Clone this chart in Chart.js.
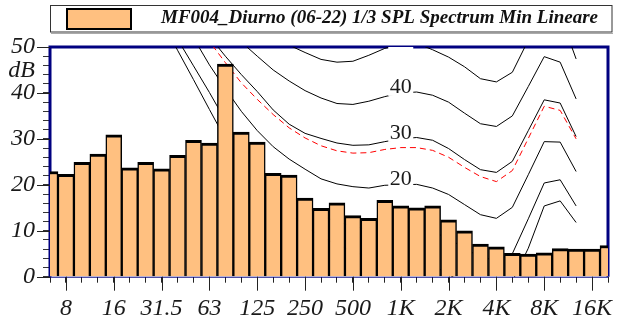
<!DOCTYPE html>
<html>
<head>
<meta charset="utf-8">
<script src="https://cdn.jsdelivr.net/npm/chart.js@4.4.1/dist/chart.umd.min.js"></script>
<style>
  html, body { margin: 0; padding: 0; background: #fff; }
  canvas { display: block; }
</style>
</head>
<body>
<canvas id="spectrum" width="620" height="324"></canvas>
<script>
// 1/3 octave bands, 6.3 Hz .. 20 kHz
const bands = ['6.3', '8', '10', '12.5', '16', '20', '25', '31.5', '40', '50', '63', '80', '100', '125',
  '160', '200', '250', '315', '400', '500', '630', '800', '1K', '1.25K', '1.6K', '2K', '2.5K', '3.15K',
  '4K', '5K', '6.3K', '8K', '10K', '12.5K', '16K', '20K'];

// minimum SPL per band, dB
const levels = [22.9, 22.3, 24.9, 26.7, 30.9, 23.7, 24.9, 23.5, 26.4, 29.7, 29.1, 46.3, 31.5, 29.3,
  22.5, 22.1, 17.1, 14.9, 16.1, 13.3, 12.7, 16.6, 15.4, 15.0, 15.4, 12.4, 10.0, 7.1,
  6.5, 5.1, 4.9, 5.2, 6.1, 6.0, 6.0, 6.8];

const axisLabels = ['8', '16', '31.5', '63', '125', '250', '500', '1K', '2K', '4K', '8K', '16K'];

// equal loudness curves, 20 Hz .. 12.5 kHz
const contourFrom = '20';
const phon0 = [70, 62.5, 55.7, 49.3, 42.9, 36.4, 30.0, 25.5, 21.0, 17.0, 13.8, 11.0, 8.8, 7.0, 5.5,
  4.3, 3.5, 3.0, 3.2, 2.5, 0.5, -1.5, -3.5, -4.0, -1.0, 6.2, 15.4, 16.5, 11.8];
const phon10 = [72, 65, 58, 51.7, 45.9, 40.1, 34.0, 28.5, 24.5, 20.5, 17.8, 15.3, 13.3, 12.0, 11.0,
  10.3, 10.0, 10.0, 10.3, 9.8, 8.3, 6.2, 4.2, 3.6, 5.0, 12.6, 20.4, 21.1, 15.4];
const phon20 = [78, 71, 64, 58, 52, 46.1, 40.9, 36.0, 31.8, 28.3, 25.6, 23.4, 21.3, 20.2, 19.6,
  19.3, 19.9, 20.0, 20.1, 19.3, 17.9, 15.7, 13.5, 12.7, 15.1, 22.2, 29.4, 29.3, 22.9];
const limitCurve = [80, 73, 66, 60, 55.5, 51.2, 46.6, 42.2, 38.6, 35.3, 32.4, 30.2, 28.5, 27.4, 26.9,
  27.0, 27.7, 28.1, 28.1, 27.5, 26.0, 23.8, 21.8, 20.7, 23.1, 30.1, 37.1, 36.2, 30.0];
const phon30 = [85, 79, 72, 65, 58, 52.3, 48.0, 44.0, 40.3, 36.3, 33.2, 31.2, 30.1, 29.1, 28.6,
  28.7, 29.4, 30.0, 30.3, 29.7, 27.9, 25.5, 23.3, 22.7, 25.1, 31.8, 38.5, 37.8, 30.5];
const phon40 = [95, 89, 83, 77, 70, 63, 56.5, 51.1, 48.0, 45.0, 42.6, 40.5, 38.9, 37.7, 37.5,
  38.2, 39.2, 40.0, 40.2, 39.5, 38.0, 35.6, 33.3, 32.7, 35.0, 41.4, 47.9, 46.7, 38.7];
const phon50 = [105, 99, 93, 87, 81, 75, 69, 63, 57.5, 53.2, 50.4, 48.8, 47.3, 46.7, 46.9,
  48.2, 49.7, 50.6, 50.8, 49.4, 47.8, 45.7, 43.1, 42.4, 44.5, 51.5, 58, 57, 47.4];

const curveLabels = [20, 30, 40, 50];
const legendText = 'MF004_Diurno (06-22) 1/3 SPL Spectrum Min Lineare';

const SERIF = "'Liberation Serif', 'Times New Roman', serif";
const NAVY = '#000080';
const BAR_FILL = '#FFC080';

const toPoints = (values, start) => values.map((v, i) => ({ x: start + i, y: v }));
const first = bands.indexOf(contourFrom);

function curve(values, color, dash) {
  return {
    type: 'line',
    data: toPoints(values, first),
    borderColor: color,
    borderWidth: 1,
    borderDash: dash || [],
    pointRadius: 0,
    tension: 0,
    order: 1,
  };
}

// plot frame: heavy navy on three sides, thin base line
const frame = {
  id: 'frame',
  beforeDatasetsDraw(chart) {
    const { ctx, chartArea: a } = chart;
    ctx.save();
    ctx.strokeStyle = NAVY;
    ctx.lineWidth = 3;
    ctx.beginPath();
    ctx.moveTo(a.left, a.bottom);
    ctx.lineTo(a.left, a.top);
    ctx.lineTo(a.right, a.top);
    ctx.lineTo(a.right, a.bottom);
    ctx.stroke();
    ctx.lineWidth = 1;
    ctx.beginPath();
    ctx.moveTo(a.left, a.bottom + 0.5);
    ctx.lineTo(a.right, a.bottom + 0.5);
    ctx.stroke();
    ctx.restore();
  },
};

// long ticks on the labelled values, plus the unit label
const majorTicks = {
  id: 'majorTicks',
  afterDraw(chart) {
    const { ctx, scales: { x, y } } = chart;
    ctx.save();
    ctx.strokeStyle = '#222';
    ctx.lineWidth = 1;
    ctx.beginPath();
    for (let v = 0; v <= 50; v += 10) {
      const py = Math.round(y.getPixelForValue(v)) + 0.5;
      ctx.moveTo(y.right - 13, py);
      ctx.lineTo(y.right, py);
    }
    axisLabels.forEach((l) => {
      const px = Math.round(x.getPixelForValue(bands.indexOf(l))) + 0.5;
      ctx.moveTo(px, x.top);
      ctx.lineTo(px, x.top + 14);
    });
    ctx.stroke();

    ctx.fillStyle = '#1a1a1a';
    ctx.font = `italic 24px ${SERIF}`;
    ctx.textAlign = 'right';
    ctx.textBaseline = 'middle';
    ctx.fillText('dB', y.right - 15, y.getPixelForValue(44.8));
    ctx.restore();
  },
};

// phon values written on the curves at 1 kHz
const curveText = {
  id: 'curveText',
  afterDatasetsDraw(chart) {
    const { ctx, chartArea: a, scales: { x, y } } = chart;
    const cx = x.getPixelForValue(bands.indexOf('1K'));
    ctx.save();
    ctx.beginPath();
    ctx.rect(a.left, a.top, a.right - a.left, a.bottom - a.top);
    ctx.clip();
    ctx.font = `22px ${SERIF}`;
    ctx.textAlign = 'center';
    ctx.textBaseline = 'middle';
    curveLabels.forEach((p) => {
      const py = y.getPixelForValue(p);
      ctx.fillStyle = '#fff';
      ctx.fillRect(cx - 12.5, py - 16, 25, 19);
      ctx.fillStyle = '#1a1a1a';
      ctx.fillText(String(p), cx, py - 6);
    });
    ctx.restore();
  },
};

// boxed legend across the top
const legendBox = {
  id: 'legendBox',
  afterDraw(chart) {
    const { ctx } = chart;
    const ds = chart.data.datasets[0];
    ctx.save();
    ctx.strokeStyle = '#333';
    ctx.lineWidth = 1;
    ctx.strokeRect(50.5, 5.5, 561.5, 26.5);
    ctx.strokeStyle = '#aaa';
    ctx.beginPath();
    ctx.moveTo(51, 33.5);
    ctx.lineTo(613, 33.5);
    ctx.stroke();

    ctx.fillStyle = ds.backgroundColor;
    ctx.fillRect(67, 9, 64, 20);
    ctx.strokeStyle = '#000';
    ctx.lineWidth = 2;
    ctx.strokeRect(67, 9, 64, 20);

    ctx.fillStyle = '#111';
    ctx.font = `italic bold 19px ${SERIF}`;
    ctx.textAlign = 'left';
    ctx.textBaseline = 'alphabetic';
    ctx.fillText(ds.label, 161, 23);
    ctx.restore();
  },
};

const tickFont = { family: SERIF, size: 24, style: 'italic' };

new Chart(document.getElementById('spectrum'), {
  type: 'bar',
  data: {
    datasets: [
      {
        type: 'bar',
        label: legendText,
        data: toPoints(levels, 0),
        backgroundColor: BAR_FILL,
        borderColor: '#000',
        borderWidth: { top: 3, left: 1.5, right: 1.5, bottom: 0 },
        borderSkipped: 'start',
        barPercentage: 1,
        categoryPercentage: 1,
        clip: 0,
        order: 0,
      },
      curve(phon0, '#000'),
      curve(phon10, '#000'),
      curve(phon20, '#000'),
      curve(limitCurve, '#ff0000', [6, 4]),
      curve(phon30, '#000'),
      curve(phon40, '#000'),
      curve(phon50, '#000'),
    ],
  },
  options: {
    responsive: false,
    animation: false,
    layout: { padding: { top: 47, right: 8, bottom: 0, left: 0 } },
    plugins: {
      legend: { display: false },
      tooltip: { enabled: false },
    },
    scales: {
      x: {
        type: 'linear',
        min: 0,
        max: bands.length - 1,
        offset: false,
        afterBuildTicks: (s) => { s.ticks = bands.map((b, i) => ({ value: i })); },
        afterFit: (s) => { s.height = 47.3; },
        grid: { offset: false, drawOnChartArea: false, tickLength: 6, tickColor: '#222' },
        border: { display: false },
        ticks: {
          autoSkip: false,
          maxRotation: 0,
          padding: 12,
          color: '#1a1a1a',
          font: tickFont,
          callback: (v) => (axisLabels.includes(bands[v]) ? bands[v] : ''),
        },
      },
      y: {
        min: 0,
        max: 50,
        afterFit: (s) => { s.width = 50; },
        grid: { drawOnChartArea: false, tickLength: 7, tickColor: '#333' },
        border: { display: false },
        ticks: {
          stepSize: 2,
          autoSkip: false,
          padding: 8,
          color: '#1a1a1a',
          font: tickFont,
          callback: (v) => (v % 10 === 0 ? String(v) : ''),
        },
      },
    },
  },
  plugins: [frame, majorTicks, curveText, legendBox],
});
</script>
</body>
</html>
